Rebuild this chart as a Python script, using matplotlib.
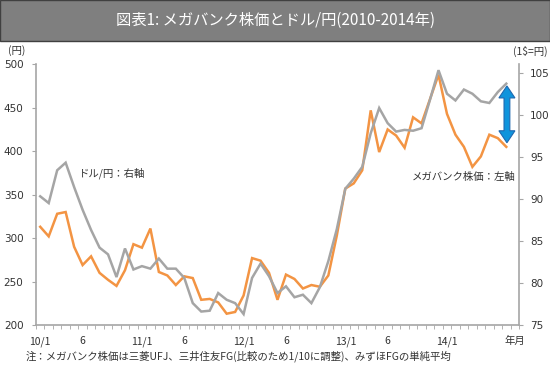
import numpy as np
import pandas as pd
import matplotlib
matplotlib.use("Agg")
import matplotlib.pyplot as plt
from matplotlib.patches import Rectangle, Polygon

plt.rcParams['font.family'] = ['DejaVu Sans', 'Noto Sans CJK JP']
JP = ['Noto Sans CJK JP', 'DejaVu Sans']

# category axis: monthly, 2010/1 - 2014/9 (data ends 2014/8)
months = pd.period_range('2010-01', '2014-09', freq='M').strftime('%Y-%m').tolist()

# mega bank average share price (yen, left axis)
bank_stock = [313, 302, 328, 330, 290, 269, 279, 260, 252, 245, 263, 293,
              289, 311, 261, 257, 246, 256, 254, 229, 230, 226, 213, 215,
              234, 277, 274, 260, 229, 258, 253, 242, 246, 244, 257, 303,
              357, 363, 378, 447, 399, 425, 418, 404, 439, 432, 460, 488,
              443, 419, 405, 382, 394, 419, 415, 405]

# USD/JPY (right axis)
usd_jpy = [90.3, 89.5, 93.4, 94.3, 91.4, 88.7, 86.3, 84.2, 83.4, 80.7, 84.1, 81.6,
           82.0, 81.7, 82.9, 81.7, 81.7, 80.6, 77.6, 76.6, 76.7, 78.8, 78.0, 77.6,
           76.3, 80.6, 82.3, 80.8, 78.8, 79.6, 78.3, 78.6, 77.6, 79.5, 82.6, 86.4,
           91.2, 92.4, 93.8, 97.8, 100.8, 99.0, 98.0, 98.2, 98.1, 98.4, 101.8, 105.3,
           102.5, 101.7, 103.0, 102.5, 101.6, 101.4, 102.7, 103.7]

tick_months = ['2010-01', '2010-06', '2011-01', '2011-06', '2012-01', '2012-06',
               '2013-01', '2013-06', '2014-01', '2014-09']
tick_labels = ['10/1', '6', '11/1', '6', '12/1', '6', '13/1', '6', '14/1', '年月']

axis_gray = '#a6a6a6'
text_col = '#333333'

fig = plt.figure(figsize=(5.5, 3.82), dpi=100)

# title band
fig.patches.append(Rectangle((0, 1 - 41 / 382), 1, 41 / 382, transform=fig.transFigure,
                             facecolor='#7f7f7f', edgecolor='#404040', lw=1))
fig.text(0.5, 1 - 20 / 382, '図表1: メガバンク株価とドル/円(2010-2014年)', ha='center', va='center',
         color='white', fontsize=11, family=JP)

ax = fig.add_axes([36 / 550, 1 - 325 / 382, 483 / 550, 260.7 / 382])
ax2 = ax.twinx()

x = np.arange(len(bank_stock))
ax.plot(x, bank_stock, color='#f39443', lw=1.8, solid_joinstyle='miter')
ax2.plot(x, usd_jpy, color='#a5a5a5', lw=1.8, solid_joinstyle='miter')

ax.set_xlim(-0.5, len(months) - 0.5)
ax.set_ylim(200, 500)
ax2.set_ylim(75, 106)
ax.set_yticks(range(200, 501, 50))
ax2.set_yticks(range(75, 106, 5))

ax.set_xticks([months.index(m) for m in tick_months], tick_labels, family=JP)
ax.set_xticks(np.arange(-0.5, len(months)), minor=True)
ax.tick_params(axis='x', which='major', length=0, pad=8, labelsize=7.5, labelcolor=text_col)
ax.tick_params(axis='x', which='minor', length=3, color=axis_gray)
ax.tick_params(axis='y', length=3, color=axis_gray, labelsize=7.5, labelcolor=text_col, pad=6)
ax2.tick_params(axis='y', length=3, color=axis_gray, labelsize=7.5, labelcolor=text_col, pad=5)

for a in (ax, ax2):
    for s in a.spines.values():
        s.set_color(axis_gray)
        s.set_linewidth(1.2)
    a.spines['top'].set_visible(False)
ax.spines['right'].set_visible(False)
ax2.spines['left'].set_visible(False)
ax2.spines['bottom'].set_visible(False)

ax.text(0.089, 0.583, 'ドル/円：右軸', transform=ax.transAxes, ha='left', va='center',
        fontsize=7.5, color=text_col, family=JP)
ax.text(0.992, 0.568, 'メガバンク株価：左軸', transform=ax.transAxes, ha='right', va='center',
        fontsize=7.5, color=text_col, family=JP)

# double headed arrow showing the gap at the end
cx, top, bot = 0.975, 0.917, 0.699
hw, sw, hl = 0.0166, 0.006, 0.046
arrow = [(cx, top), (cx + hw, top - hl), (cx + sw, top - hl), (cx + sw, bot + hl),
         (cx + hw, bot + hl), (cx, bot), (cx - hw, bot + hl), (cx - sw, bot + hl),
         (cx - sw, top - hl), (cx - hw, top - hl)]
ax2.add_patch(Polygon(arrow, closed=True, transform=ax.transAxes, facecolor='#0f94dc',
                      edgecolor='#1f68b0', lw=0.8, zorder=5, clip_on=False))

fig.text(8 / 550, 1 - 51 / 382, '(円)', ha='left', va='center', fontsize=7.5,
         color=text_col, family=JP)
fig.text(548 / 550, 1 - 51 / 382, '(1$=円)', ha='right', va='center', fontsize=7.5,
         color=text_col, family=JP)
fig.text(26 / 550, 1 - 356 / 382,
         '注：メガバンク株価は三菱UFJ、三井住友FG(比較のため1/10に調整)、みずほFGの単純平均',
         ha='left', va='center', fontsize=7.5, color=text_col, family=JP)

fig.savefig('out.png', dpi=100)
